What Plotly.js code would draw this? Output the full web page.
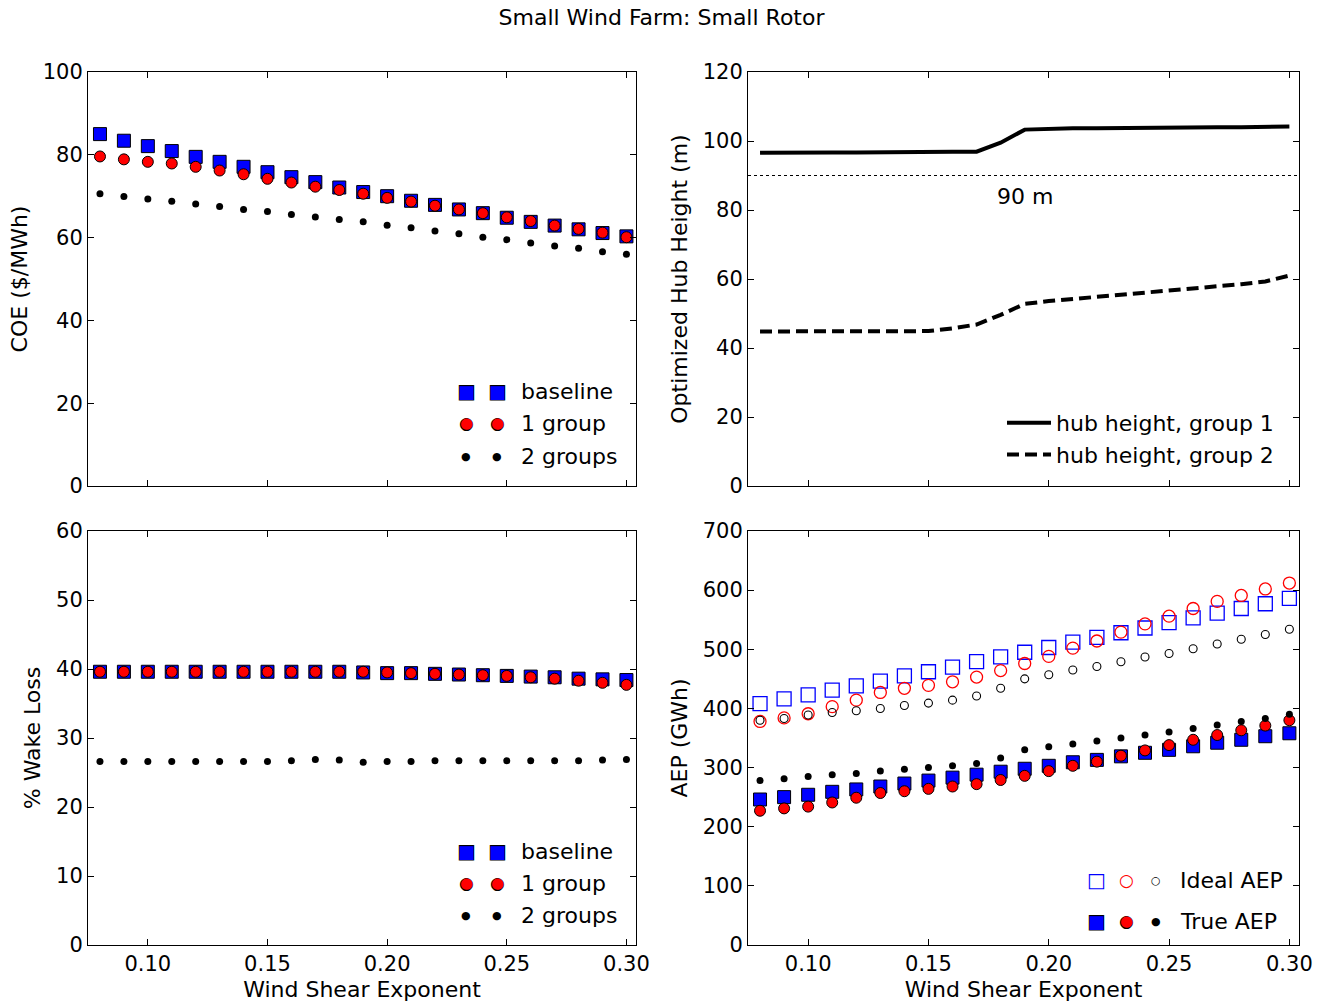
<!DOCTYPE html>
<html>
<head>
<meta charset="utf-8">
<script src="https://cdn.plot.ly/plotly-3.0.1.min.js"></script>
<style>html,body{margin:0;padding:0;background:#fff;}#chart{width:1323px;height:1005px;}</style>
</head>
<body>
<div id="chart"></div>
<script>
// ---------------- data ----------------
const shear = [0.08,0.09,0.10,0.11,0.12,0.13,0.14,0.15,0.16,0.17,0.18,0.19,0.20,0.21,0.22,0.23,0.24,0.25,0.26,0.27,0.28,0.29,0.30];

const coeBaseline  = [85.0,83.4,82.1,80.9,79.5,78.3,77.1,75.8,74.6,73.4,72.1,71.0,70.0,68.9,67.9,66.8,65.9,64.8,63.8,62.9,62.0,61.1,60.3];
const coeOneGroup  = [79.6,78.9,78.3,77.9,77.1,76.2,75.3,74.2,73.3,72.3,71.5,70.6,69.6,68.7,67.7,66.8,65.9,64.9,64.0,62.9,62.1,61.2,60.1];
const coeTwoGroups = [70.6,69.9,69.3,68.8,68.1,67.5,66.8,66.3,65.6,65.0,64.4,63.8,63.0,62.4,61.6,60.9,60.1,59.5,58.7,58.0,57.4,56.6,56.0];

const hubGroup1 = [96.6,96.7,96.7,96.7,96.7,96.8,96.8,96.8,96.9,96.9,99.5,103.3,103.6,103.7,103.7,103.8,103.8,103.9,103.9,104.0,104.0,104.1,104.2];
const hubGroup2 = [44.8,44.8,44.8,44.8,44.8,44.8,44.8,44.9,45.7,46.8,49.6,52.8,53.6,54.2,54.8,55.4,56.0,56.6,57.2,57.8,58.5,59.3,61.0];
const refHubHeight = 90;

const wakeBaseline  = [39.6,39.6,39.6,39.6,39.6,39.6,39.6,39.6,39.6,39.6,39.6,39.5,39.4,39.4,39.3,39.2,39.1,39.0,38.9,38.8,38.6,38.5,38.4];
const wakeOneGroup  = [39.6,39.6,39.6,39.6,39.6,39.6,39.6,39.6,39.6,39.6,39.6,39.6,39.5,39.4,39.3,39.2,39.1,39.0,38.8,38.6,38.3,38.0,37.7];
const wakeTwoGroups = [26.6,26.6,26.6,26.6,26.6,26.6,26.6,26.6,26.7,26.9,26.8,26.5,26.6,26.6,26.7,26.7,26.7,26.7,26.7,26.7,26.7,26.8,26.9];

const aepIdealBaseline = [408,416,423,431,438,446,455,462,470,479,487,495,503,512,520,528,536,545,553,561,569,577,586];
const aepIdealOne      = [378,384,391,403,414,427,434,439,445,453,464,476,488,502,514,529,543,556,569,581,591,602,612];
const aepIdealTwo      = [380,383,389,393,396,400,405,409,414,421,434,450,457,465,471,479,487,493,501,509,517,525,534];
const aepTrueBaseline  = [246,250,254,259,263,268,273,278,283,288,293,298,303,309,313,319,325,330,336,342,347,353,358];
const aepTrueOne       = [227,231,234,241,249,257,260,264,268,272,279,286,294,303,310,320,329,338,347,355,363,371,380];
const aepTrueTwo       = [278,281,285,288,290,294,297,300,303,307,316,330,335,340,345,350,355,360,366,372,378,383,390];

const xTickVals = [0.10,0.15,0.20,0.25,0.30];
const xTickText = ['0.10','0.15','0.20','0.25','0.30'];

// ---------------- styles ----------------
const FONT = 'DejaVu Sans';
const W = 1323, H = 1005;
const BLUE = '#0000ff', RED = '#ff0000', BLACK = '#000000';

function sq(color){ return {symbol:'square', size:13, color:color, line:{color:BLACK, width:1}}; }
function circ(color){ return {symbol:'circle', size:11, color:color, line:{color:BLACK, width:1}}; }
function dot(){ return {symbol:'circle', size:7, color:BLACK, line:{width:0}}; }

function pts(x, y, marker, xa, ya, name){
  return {type:'scatter', mode:'markers', x:x, y:y, marker:marker, xaxis:xa, yaxis:ya, name:name, showlegend:false, hoverinfo:'skip'};
}

const traces = [
  // COE
  pts(shear, coeBaseline, sq(BLUE), 'x', 'y', 'baseline'),
  pts(shear, coeOneGroup, circ(RED), 'x', 'y', '1 group'),
  pts(shear, coeTwoGroups, dot(), 'x', 'y', '2 groups'),
  // Hub height
  {type:'scatter', mode:'lines', x:shear, y:hubGroup1, xaxis:'x2', yaxis:'y2', name:'hub height, group 1',
   line:{color:BLACK, width:4}, legend:'legend2', showlegend:true, hoverinfo:'skip'},
  {type:'scatter', mode:'lines', x:shear, y:hubGroup2, xaxis:'x2', yaxis:'y2', name:'hub height, group 2',
   line:{color:BLACK, width:4, dash:'12px,6px'}, legend:'legend2', showlegend:true, hoverinfo:'skip'},
  // Wake loss
  pts(shear, wakeBaseline, sq(BLUE), 'x3', 'y3', 'baseline'),
  pts(shear, wakeOneGroup, circ(RED), 'x3', 'y3', '1 group'),
  pts(shear, wakeTwoGroups, dot(), 'x3', 'y3', '2 groups'),
  // AEP ideal
  pts(shear, aepIdealBaseline, {symbol:'square-open', size:14, color:BLUE, line:{width:1.3}}, 'x4', 'y4', 'Ideal baseline'),
  pts(shear, aepIdealOne, {symbol:'circle-open', size:12, color:RED, line:{width:1.3}}, 'x4', 'y4', 'Ideal 1 group'),
  pts(shear, aepIdealTwo, {symbol:'circle-open', size:8, color:BLACK, line:{width:1.1}}, 'x4', 'y4', 'Ideal 2 groups'),
  // AEP true
  pts(shear, aepTrueBaseline, sq(BLUE), 'x4', 'y4', 'True baseline'),
  pts(shear, aepTrueOne, circ(RED), 'x4', 'y4', 'True 1 group'),
  pts(shear, aepTrueTwo, dot(), 'x4', 'y4', 'True 2 groups')
];

const axisBase = {
  showline:true, linecolor:BLACK, linewidth:1, mirror:'allticks',
  ticks:'inside', ticklen:6, tickwidth:1, tickcolor:BLACK,
  showgrid:false, zeroline:false,
  tickfont:{family:FONT, size:21, color:BLACK}
};
function xax(domain, labels, anchor){
  return Object.assign({}, axisBase, {
    domain:domain, anchor:anchor, range:[0.075,0.304],
    tickmode:'array', tickvals:xTickVals, ticktext:xTickText, showticklabels:labels,
    title: labels ? {text:'Wind Shear Exponent', font:{family:FONT, size:22, color:BLACK}, standoff:6} : {text:''}
  });
}
function yax(domain, range, dtick, title, anchor){
  return Object.assign({}, axisBase, {
    domain:domain, anchor:anchor, range:range, tick0:0, dtick:dtick,
    title:{text:title, font:{family:FONT, size:22, color:BLACK}, standoff:9}
  });
}

const colL = [88/W, 636/W], colR = [748/W, 1299/W];
const rowT = [1-486/H, 1-72/H], rowB = [1-945/H, 1-531/H];

// legend glyph annotations (positions in pixels of the figure)
const annotations = [];
function glyph(px, py, ch, color, size){
  annotations.push({xref:'paper', yref:'paper', x:px/W, y:1-py/H, xanchor:'center', yanchor:'middle',
    text:ch, showarrow:false, font:{family:FONT, size:size, color:color}});
}
function edgedGlyph(px, py, ch, color, size){
  glyph(px, py, ch, BLACK, size + 2);
  glyph(px, py, ch, color, size);
}
function label(px, py, txt){
  annotations.push({xref:'paper', yref:'paper', x:px/W, y:1-py/H, xanchor:'left', yanchor:'middle',
    text:txt, showarrow:false, font:{family:FONT, size:22, color:BLACK}});
}
const SQ = '\u25A0', CI = '\u25CF', OSQ = '\u25A1', OCI = '\u25CB';
function markerLegend(rowsY, labels){
  [466, 497].forEach(px => {
    edgedGlyph(px, rowsY[0], SQ, BLUE, 18);
    edgedGlyph(px, rowsY[1], CI, RED, 15);
    glyph(px, rowsY[2], CI, BLACK, 11);
  });
  rowsY.forEach((py, i) => label(519, py, labels[i]));
}
markerLegend([391, 423, 456], ['baseline', '1 group', '2 groups']);
markerLegend([851, 883, 915], ['baseline', '1 group', '2 groups']);
// AEP legend
glyph(1096, 880, OSQ, BLUE, 20);
glyph(1126, 880, OCI, RED, 17);
glyph(1156, 880, OCI, BLACK, 11);
label(1178, 880, 'Ideal AEP');
edgedGlyph(1096, 921, SQ, BLUE, 18);
edgedGlyph(1126, 921, CI, RED, 15);
glyph(1156, 921, CI, BLACK, 11);
label(1178, 921, 'True AEP');
// 90 m label
annotations.push({xref:'x2', yref:'y2', x:0.19, y:84, xanchor:'center', yanchor:'middle', text:refHubHeight + ' m',
  showarrow:false, font:{family:FONT, size:22, color:BLACK}});

const layout = {
  width:W, height:H,
  margin:{l:0, r:0, t:0, b:0},
  paper_bgcolor:'#ffffff', plot_bgcolor:'#ffffff',
  font:{family:FONT, size:21, color:BLACK},
  title:{text:'Small Wind Farm: Small Rotor', font:{family:FONT, size:22, color:BLACK},
         x:0.5, xanchor:'center', y:1-17/H, yanchor:'middle', yref:'container'},
  xaxis: xax(colL, false, 'y'),
  yaxis: yax(rowT, [0,100], 20, 'COE ($/MWh)', 'x'),
  xaxis2: xax(colR, false, 'y2'),
  yaxis2: yax(rowT, [0,120], 20, 'Optimized Hub Height (m)', 'x2'),
  xaxis3: xax(colL, true, 'y3'),
  yaxis3: yax(rowB, [0,60], 10, '% Wake Loss', 'x3'),
  xaxis4: xax(colR, true, 'y4'),
  yaxis4: yax(rowB, [0,700], 100, 'AEP (GWh)', 'x4'),
  showlegend:true,
  legend2:{x:1002/W, y:1-402/H, xanchor:'left', yanchor:'top', bgcolor:'rgba(0,0,0,0)', borderwidth:0,
           itemwidth:44, font:{family:FONT, size:22, color:BLACK}, tracegroupgap:0},
  shapes:[{type:'line', xref:'x2 domain', yref:'y2', x0:0, x1:1, y0:refHubHeight, y1:refHubHeight,
           line:{color:BLACK, width:1, dash:'dot'}, layer:'below'}],
  annotations: annotations
};

Plotly.newPlot('chart', traces, layout, {staticPlot:true, displayModeBar:false});
</script>
</body>
</html>
